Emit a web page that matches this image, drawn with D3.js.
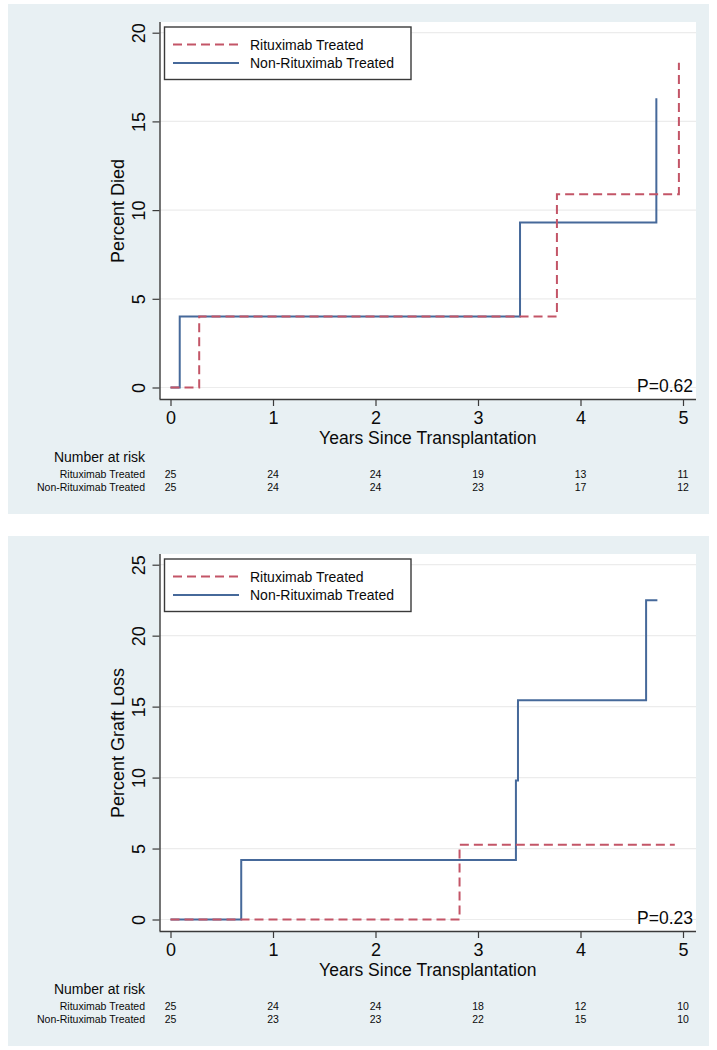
<!DOCTYPE html>
<html>
<head>
<meta charset="utf-8">
<script src="https://cdn.jsdelivr.net/npm/d3@7"></script>
<style>
  html, body { margin: 0; padding: 0; background: #ffffff; }
  svg { display: block; font-family: "Liberation Sans", Arial, Helvetica, sans-serif; }
</style>
</head>
<body>
<svg id="chart" width="717" height="1050"></svg>
<script>
// ---- Data ----
const seriesNames = ["Rituximab Treated", "Non-Rituximab Treated"];
const xTicks = [0, 1, 2, 3, 4, 5];

// Panel 1: Percent Died
const diedYTicks = [0, 5, 10, 15, 20];
const diedRituxTime = [0, 0.28, 3.77, 4.96];
const diedRituxPct  = [0, 4.0, 10.9, 18.3];
const diedNonTime   = [0, 0.09, 3.41, 4.74];
const diedNonPct    = [0, 4.0, 9.3, 16.3];
const diedRiskRitux = [25, 24, 24, 19, 13, 11];
const diedRiskNon   = [25, 24, 24, 23, 17, 12];
const diedP = "P=0.62";

// Panel 2: Percent Graft Loss
const graftYTicks = [0, 5, 10, 15, 20, 25];
const graftRituxTime = [0, 2.82, 4.92];
const graftRituxPct  = [0, 5.26, 5.26];
const graftNonTime   = [0, 0.69, 3.37, 3.39, 4.64, 4.75];
const graftNonPct    = [0, 4.2, 9.8, 15.45, 22.5, 22.5];
const graftRiskRitux = [25, 24, 24, 18, 12, 10];
const graftRiskNon   = [25, 23, 23, 22, 15, 10];
const graftP = "P=0.23";

// ---- Styles ----
const bg = "#e8f0f3";
const red = "#c35567";
const blue = "#46699a";
const axisCol = "#3a3a3a";
const txt = "#0a0a0a";

const svg = d3.select("#chart");

function panel(cfg) {
  const pt = cfg.top;
  const g = svg.append("g");
  g.append("rect").attr("x", 8).attr("y", pt).attr("width", 701).attr("height", 510).attr("fill", bg);

  const left = 159.5, right = 696;
  const plotTop = pt + 18, axisY = pt + 395;
  g.append("rect").attr("x", left).attr("y", plotTop).attr("width", right - left).attr("height", axisY - plotTop).attr("fill", "#fff");

  const x = d3.scaleLinear().domain([0, 5]).range([170.5, 683]);
  const y = d3.scaleLinear().domain([0, cfg.ymax]).range([pt + 383.5, pt + 28.7]);

  // gridlines
  g.selectAll(".grid").data(cfg.yTicks).enter().append("line")
    .attr("x1", left).attr("x2", right)
    .attr("y1", d => y(d)).attr("y2", d => y(d))
    .attr("stroke", "#ececec").attr("stroke-width", 1.2);

  // axes
  const xAxis = g.append("g").attr("transform", `translate(0,${axisY})`)
    .call(d3.axisBottom(x).tickValues(xTicks).tickSize(7).tickPadding(5).tickFormat(d3.format("d")));
  xAxis.select(".domain").attr("d", `M${left},0.5H${right}`).attr("stroke", axisCol).attr("stroke-width", 1.4);
  xAxis.selectAll(".tick line").attr("stroke", axisCol).attr("stroke-width", 1.2);
  xAxis.selectAll(".tick text").attr("fill", txt).attr("font-size", 18).attr("dy", null)
    .attr("y", 25);

  const yAxis = g.append("g").attr("transform", `translate(${left},0)`)
    .call(d3.axisLeft(y).tickValues(cfg.yTicks).tickSize(7).tickFormat(d3.format("d")));
  yAxis.select(".domain").attr("d", `M0.5,${plotTop}V${axisY}`).attr("stroke", axisCol).attr("stroke-width", 1.4);
  yAxis.selectAll(".tick line").attr("stroke", axisCol).attr("stroke-width", 1.2);
  yAxis.selectAll(".tick text").attr("fill", txt).attr("font-size", 18)
    .attr("x", null).attr("dy", null)
    .attr("text-anchor", "middle")
    .attr("transform", "translate(-21,0) rotate(-90)")
    .attr("y", 0).attr("dominant-baseline", "central");

  // axis titles
  g.append("text").attr("x", (left + right) / 2).attr("y", pt + 440)
    .attr("text-anchor", "middle").attr("font-size", 17.5).attr("fill", txt)
    .text("Years Since Transplantation");
  g.append("text").attr("transform", `translate(124,${pt + 207}) rotate(-90)`)
    .attr("text-anchor", "middle").attr("font-size", 18).attr("fill", txt)
    .text(cfg.ytitle);

  // curves
  const line = d3.line().x(d => x(d[0])).y(d => y(d[1])).curve(d3.curveStepAfter);
  const rituxData = d3.zip(cfg.rTime, cfg.rPct);
  const nonData = d3.zip(cfg.nTime, cfg.nPct);
  g.append("path").datum(nonData).attr("d", line)
    .attr("fill", "none").attr("stroke", blue).attr("stroke-width", 2);
  g.append("path").datum(rituxData).attr("d", line)
    .attr("fill", "none").attr("stroke", red).attr("stroke-width", 2).attr("stroke-dasharray", "9,5");

  // P value
  g.append("text").attr("x", 693).attr("y", pt + 388).attr("text-anchor", "end")
    .attr("font-size", 17.5).attr("fill", txt).text(cfg.p);

  // legend
  const lg = g.append("g");
  lg.append("rect").attr("x", 164.5).attr("y", pt + 23).attr("width", 246.5).attr("height", 52.5)
    .attr("fill", "#fff").attr("stroke", axisCol).attr("stroke-width", 1.4);
  const ly = [pt + 40.5, pt + 59];
  lg.append("line").attr("x1", 173).attr("x2", 239).attr("y1", ly[0]).attr("y2", ly[0])
    .attr("stroke", red).attr("stroke-width", 2).attr("stroke-dasharray", "9,5");
  lg.append("line").attr("x1", 173).attr("x2", 239).attr("y1", ly[1]).attr("y2", ly[1])
    .attr("stroke", blue).attr("stroke-width", 2);
  seriesNames.forEach((n, i) => {
    lg.append("text").attr("x", 250).attr("y", ly[i] + 5).attr("font-size", 14).attr("fill", txt).text(n);
  });

  // number at risk
  g.append("text").attr("x", 145).attr("y", pt + 458).attr("text-anchor", "end")
    .attr("font-size", 14).attr("fill", txt).text("Number at risk");
  const rows = [cfg.riskR, cfg.riskN];
  const rowY = [pt + 474, pt + 487];
  rows.forEach((vals, i) => {
    g.append("text").attr("x", 145).attr("y", rowY[i]).attr("text-anchor", "end")
      .attr("font-size", 10.5).attr("fill", txt).text(seriesNames[i]);
    g.selectAll(null).data(vals).enter().append("text")
      .attr("x", (d, j) => x(xTicks[j])).attr("y", rowY[i])
      .attr("text-anchor", "middle").attr("font-size", 10.5).attr("fill", txt)
      .text(d => d);
  });
}

panel({ top: 4, ymax: 20, yTicks: diedYTicks, ytitle: "Percent Died",
  rTime: diedRituxTime, rPct: diedRituxPct, nTime: diedNonTime, nPct: diedNonPct,
  riskR: diedRiskRitux, riskN: diedRiskNon, p: diedP });
panel({ top: 536, ymax: 25, yTicks: graftYTicks, ytitle: "Percent Graft Loss",
  rTime: graftRituxTime, rPct: graftRituxPct, nTime: graftNonTime, nPct: graftNonPct,
  riskR: graftRiskRitux, riskN: graftRiskNon, p: graftP });
</script>
</body>
</html>
